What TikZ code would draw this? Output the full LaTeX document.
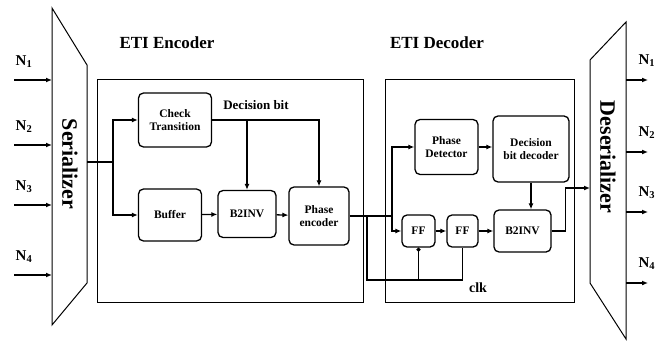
\documentclass[tikz,border=0pt]{standalone}
\usepackage{fontspec}
\setmainfont{Liberation Serif}
\usetikzlibrary{positioning,arrows.meta}
\tikzset{
  blk/.style={draw,line width=1.3pt,rounded corners=5pt,align=center,
    font=\bfseries\fontsize{11.5}{13}\selectfont,inner sep=2pt},
  sig/.style={line width=1.3pt,-{Latex[length=6pt,width=5pt]}},
  wire/.style={line width=1.3pt},
  ttl/.style={font=\bfseries\fontsize{17}{20}\selectfont},
  vlbl/.style={rotate=-90,font=\bfseries\fontsize{22}{24}\selectfont},
  plbl/.style={font=\bfseries\fontsize{15}{17}\selectfont}
}
\begin{document}
\begin{tikzpicture}[x=1pt,y=-1pt]
  \useasboundingbox (0,0) rectangle (658,342);
  % Serializer and its inputs
  \draw[line width=1pt] (52,8) -- (87,65) -- (87,283) -- (52,325) -- cycle;
  \node[vlbl] (ser) at (70,164) {Serializer};
  \coordinate (ser-out) at (87,162);
  \foreach \y/\i in {80/1,145/2,205/3,275/4} {
    \node[plbl] (in\i) at (24,\y-18) {N\textsubscript{\i}};
    \draw[sig] (14,\y) -- (52,\y);
  }
  % ETI Encoder
  \node[ttl] (enc-t) at (167,43) {ETI Encoder};
  \draw[line width=1pt] (97,80) rectangle (363,302);
  \node[blk,minimum width=73,minimum height=54] (ct) at (175,120) {Check\\Transition};
  \node[blk,minimum width=63,minimum height=52] (buf) at (170,215) {Buffer};
  \node[blk,minimum width=58,minimum height=47] (b2e) at (247,214) {B2INV};
  \node[blk,minimum width=60,minimum height=58] (pe) at (319,216) {Phase\\encoder};
  \node[font=\bfseries\fontsize{13}{15}\selectfont] (dbit) at (256,105) {Decision bit};
  \coordinate (j1) at (113,162);
  \draw[wire] (ser-out) -- (j1);
  \draw[sig] (j1) |- (ct.west);
  \draw[sig] (j1) |- (buf.west);
  \draw[sig] (ct.east) -| (pe.north);
  \draw[sig] (b2e.north |- ct.east) -- (b2e.north);
  \draw[sig] (buf) -- (b2e);
  \draw[sig] (b2e) -- (pe);
  % ETI Decoder
  \node[ttl] (dec-t) at (437,43) {ETI Decoder};
  \draw[line width=1pt] (385,80) rectangle (574,302);
  \node[blk,minimum width=63,minimum height=55] (pd) at (446.5,147) {Phase\\Detector};
  \node[blk,minimum width=76,minimum height=66] (dbd) at (531,149) {Decision\\bit decoder};
  \node[blk,minimum width=33,minimum height=32] (ff1) at (418.5,231) {FF};
  \node[blk,minimum width=31,minimum height=32] (ff2) at (462.5,231) {FF};
  \node[blk,minimum width=57,minimum height=42] (b2d) at (522.5,231) {B2INV};
  \coordinate (j2) at (367,216);
  \coordinate (j3) at (392,216);
  \coordinate (clk-a) at (367,280);
  \draw[wire] (pe.east) -- (j3);
  \draw[sig] (j3) |- (pd.west);
  \draw[sig] (j3) |- (ff1.west);
  \draw[wire] (j2) -- (clk-a) -| (ff2.south);
  \draw[wire,-{Circle[length=4pt]}] (ff1.south |- clk-a) -- (ff1.south);
  \node[font=\bfseries\fontsize{14}{16}\selectfont] (clk) at (478,288) {clk};
  \draw[sig] (pd) -- (pd -| dbd.west);
  \draw[sig] (dbd.south) -- (dbd.south |- b2d.north);
  \draw[sig] (ff1) -- (ff2);
  \draw[sig] (ff2) -- (b2d);
  % Deserializer and its outputs
  \draw[line width=1pt] (590,60) -- (626,22) -- (626,339) -- (590,283) -- cycle;
  \node[vlbl] (des) at (608,157) {Deserializer};
  \coordinate (des-in) at (590,188);
  \draw[sig] (b2d.east) -- ++(14,0) |- (des-in);
  \foreach \y/\i in {80/1,152/2,212/3,283/4} {
    \node[plbl,anchor=west] (out\i) at (635,\y-19) {N\textsubscript{\i}};
    \draw[sig] (626,\y) -- (648,\y);
  }
\end{tikzpicture}
\end{document}
